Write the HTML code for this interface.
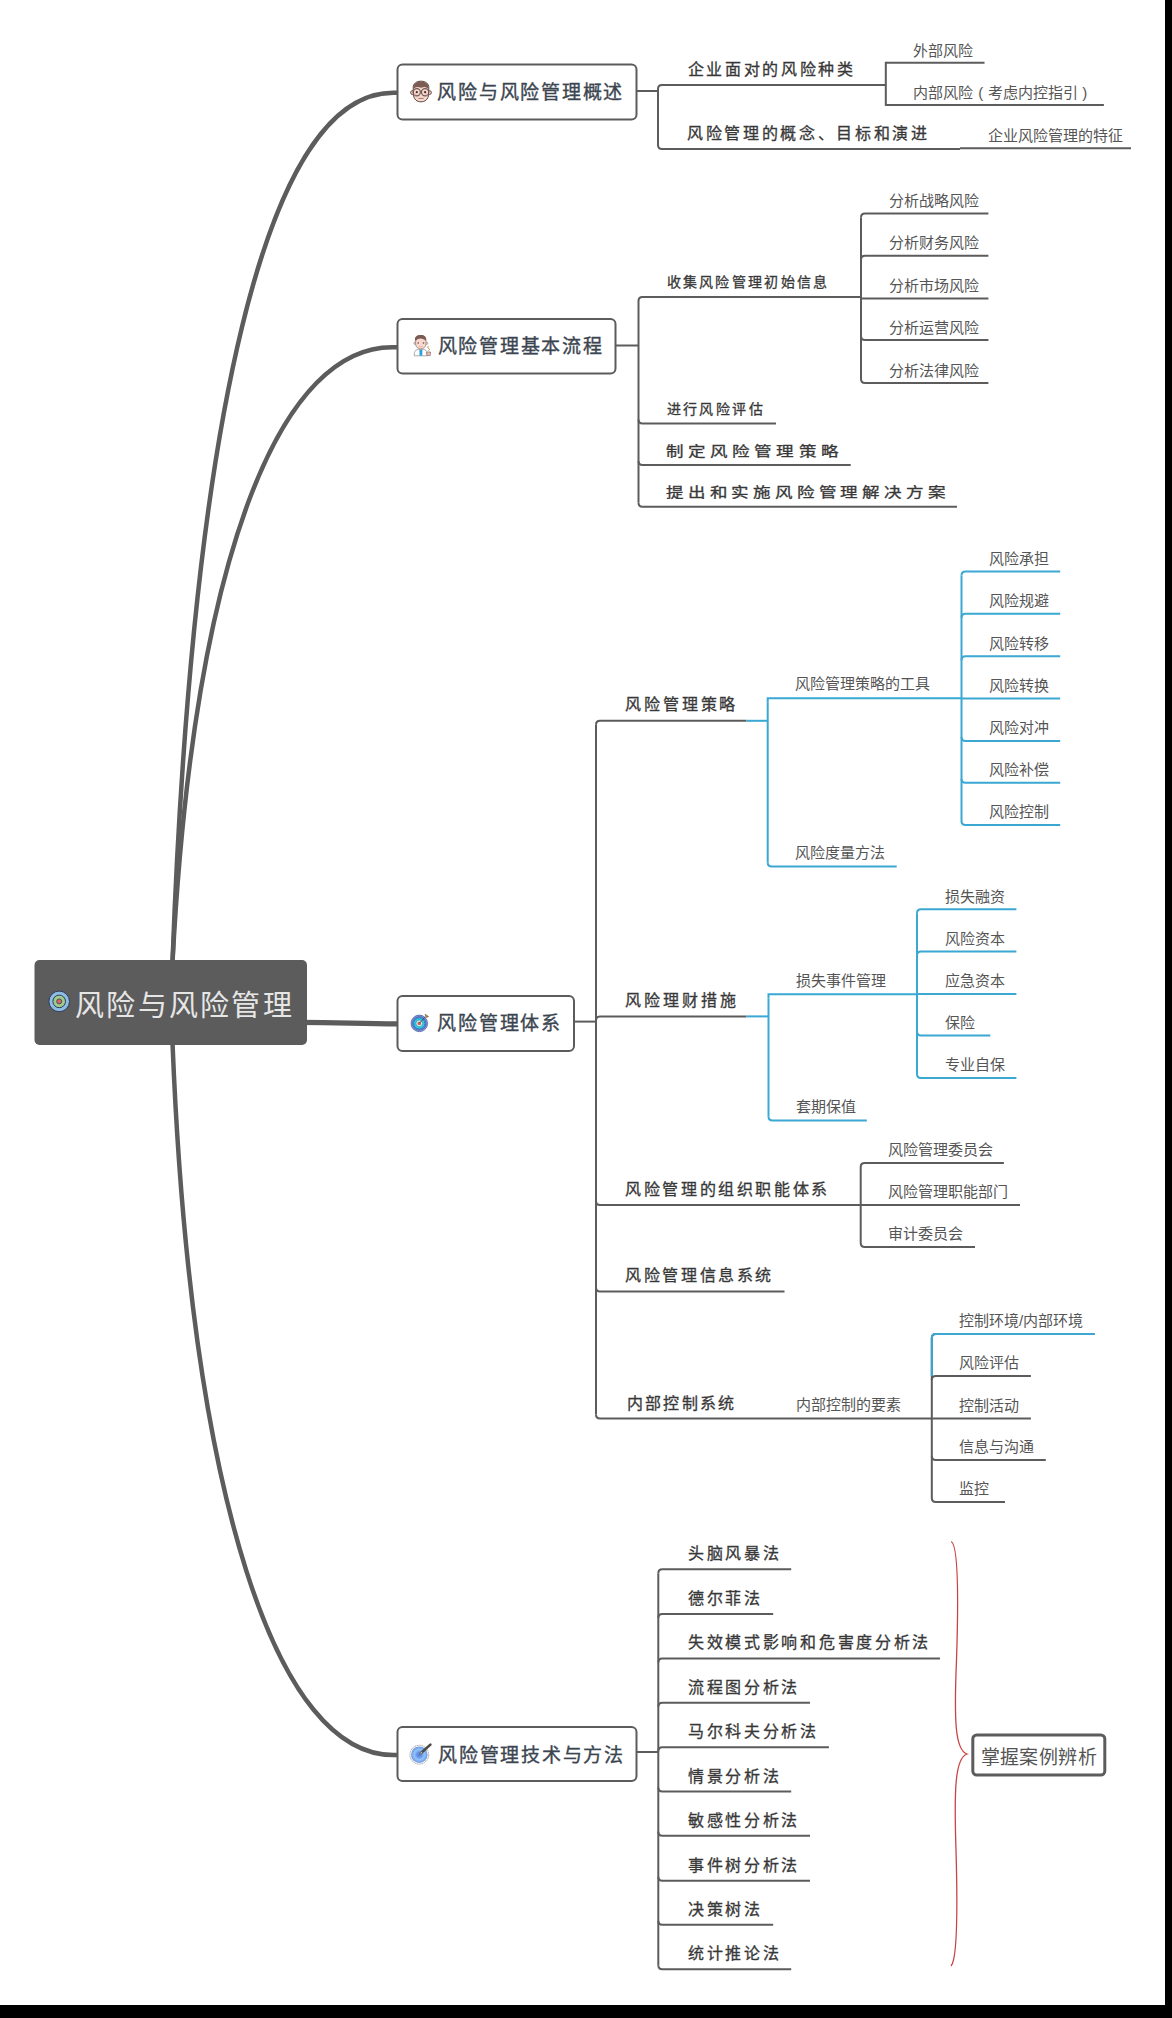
<!DOCTYPE html>
<html lang="zh-CN"><head><meta charset="utf-8"><style>
html,body{margin:0;padding:0;background:#000;}
#pg{position:relative;width:1165px;height:2005px;background:#fff;overflow:hidden;}
svg{position:absolute;left:0;top:0;}
.t{position:absolute;white-space:nowrap;font-family:"Liberation Sans",sans-serif;}
</style></head><body>
<div id="pg">
<svg width="1165" height="2005" viewBox="0 0 1165 2005">
<path d="M172.5 962 C192.2 434.2 263.3 86.1 397 92.8" fill="none" stroke="#5c5c5c" stroke-width="4.5" />
<path d="M172.5 962 C194.5 549.2 282.5 341.2 397 347.3" fill="none" stroke="#5c5c5c" stroke-width="4.5" />
<path d="M172.5 1043 C190.9 1496.6 276.4 1760.3 397 1755" fill="none" stroke="#5c5c5c" stroke-width="4.5" />
<path d="M300 1022.4 C340 1022.4 360 1023.9 397 1023.9" fill="none" stroke="#5c5c5c" stroke-width="5.2" />
<rect x="34.5" y="960" width="272.5" height="85" rx="5" fill="#5c5c5c"/>
<g transform="translate(59.2,1001.4)"><circle r="10.3" fill="#8dbde2" stroke="#2e3b5c" stroke-width="1"/><circle r="6.3" fill="#9ecb8a" stroke="#2e3b5c" stroke-width="1"/><circle r="2.5" fill="#d66a5f" stroke="#2e3b5c" stroke-width="0.8"/></g>
<rect x="397.5" y="64.5" width="239.0" height="55.0" rx="5" fill="#fff" stroke="#5c5c5c" stroke-width="2"/>
<line x1="636.5" y1="91" x2="658" y2="91" stroke="#5c5c5c" stroke-width="2"/>
<path d="M658 89 Q658 85 662 85 L885.8 85" fill="none" stroke="#5c5c5c" stroke-width="2" />
<path d="M658 145 Q658 149 662 149 L960 149" fill="none" stroke="#5c5c5c" stroke-width="2" />
<path d="M658 89 L658 145" fill="none" stroke="#5c5c5c" stroke-width="2" />
<path d="M885.8 61.8 L885.8 105.9" stroke="#5c5c5c" stroke-width="2"/>
<line x1="885.8" y1="62.8" x2="984.5" y2="62.8" stroke="#5c5c5c" stroke-width="2"/>
<line x1="885.8" y1="104.9" x2="1103.9" y2="104.9" stroke="#5c5c5c" stroke-width="2"/>
<line x1="960" y1="148.2" x2="1131" y2="148.2" stroke="#5c5c5c" stroke-width="2"/>
<rect x="397.5" y="319" width="218.0" height="54.5" rx="5" fill="#fff" stroke="#5c5c5c" stroke-width="2"/>
<line x1="615.5" y1="345.5" x2="638.5" y2="345.5" stroke="#5c5c5c" stroke-width="2"/>
<path d="M638.5 301 Q638.5 297 642.5 297 L861 297" fill="none" stroke="#5c5c5c" stroke-width="2" />
<path d="M638.5 419.6 Q638.5 423.6 642.5 423.6 L776 423.6" fill="none" stroke="#5c5c5c" stroke-width="2" />
<path d="M638.5 461 Q638.5 465 642.5 465 L850.7 465" fill="none" stroke="#5c5c5c" stroke-width="2" />
<path d="M638.5 502.7 Q638.5 506.7 642.5 506.7 L957 506.7" fill="none" stroke="#5c5c5c" stroke-width="2" />
<path d="M638.5 301 L638.5 502.7" fill="none" stroke="#5c5c5c" stroke-width="2" />
<path d="M861 217.4 Q861 213.4 865 213.4 L988.4 213.4" fill="none" stroke="#5c5c5c" stroke-width="2" />
<path d="M861 259.8 Q861 255.8 865 255.8 L988.4 255.8" fill="none" stroke="#5c5c5c" stroke-width="2" />
<line x1="861" y1="298.4" x2="988.4" y2="298.4" stroke="#5c5c5c" stroke-width="2"/>
<path d="M861 336 Q861 340 865 340 L988.4 340" fill="none" stroke="#5c5c5c" stroke-width="2" />
<path d="M861 379 Q861 383 865 383 L988.4 383" fill="none" stroke="#5c5c5c" stroke-width="2" />
<path d="M861 217.4 L861 379" fill="none" stroke="#5c5c5c" stroke-width="2" />
<rect x="397.5" y="996" width="176.5" height="55" rx="5" fill="#fff" stroke="#5c5c5c" stroke-width="2"/>
<line x1="574" y1="1021.6" x2="596" y2="1021.6" stroke="#5c5c5c" stroke-width="2"/>
<path d="M596 724.8 Q596 720.8 600 720.8 L746.5 720.8" fill="none" stroke="#5c5c5c" stroke-width="2" />
<path d="M596 1020.4 Q596 1016.4 600 1016.4 L746.5 1016.4" fill="none" stroke="#5c5c5c" stroke-width="2" />
<path d="M596 1201 Q596 1205 600 1205 L860.7 1205" fill="none" stroke="#5c5c5c" stroke-width="2" />
<path d="M596 1287.6 Q596 1291.6 600 1291.6 L784.5 1291.6" fill="none" stroke="#5c5c5c" stroke-width="2" />
<path d="M596 1414.5 Q596 1418.5 600 1418.5 L931.8 1418.5" fill="none" stroke="#5c5c5c" stroke-width="2" />
<path d="M596 724.8 L596 1414.5" fill="none" stroke="#5c5c5c" stroke-width="2" />
<line x1="746.5" y1="720.8" x2="767.7" y2="720.8" stroke="#3aa8d2" stroke-width="2"/>
<line x1="746.5" y1="1016.4" x2="768.5" y2="1016.4" stroke="#3aa8d2" stroke-width="2"/>
<path d="M767.7 702.2 L767.7 697.2 M766.7 698.2 L961.5 698.2" fill="none" stroke="#3aa8d2" stroke-width="2" />
<path d="M767.7 862.5 Q767.7 866.5 771.7 866.5 L896.7 866.5" fill="none" stroke="#3aa8d2" stroke-width="2" />
<path d="M767.7 702.2 L767.7 862.5" fill="none" stroke="#3aa8d2" stroke-width="2" />
<path d="M961.5 575.5 Q961.5 571.5 965.5 571.5 L1060.2 571.5" fill="none" stroke="#3aa8d2" stroke-width="2" />
<path d="M961.5 617.8 Q961.5 613.8 965.5 613.8 L1060.2 613.8" fill="none" stroke="#3aa8d2" stroke-width="2" />
<path d="M961.5 660.3 Q961.5 656.3 965.5 656.3 L1060.2 656.3" fill="none" stroke="#3aa8d2" stroke-width="2" />
<line x1="961.5" y1="698.6" x2="1060.2" y2="698.6" stroke="#3aa8d2" stroke-width="2"/>
<path d="M961.5 736.9 Q961.5 740.9 965.5 740.9 L1060.2 740.9" fill="none" stroke="#3aa8d2" stroke-width="2" />
<path d="M961.5 778.8 Q961.5 782.8 965.5 782.8 L1060.2 782.8" fill="none" stroke="#3aa8d2" stroke-width="2" />
<path d="M961.5 821.1 Q961.5 825.1 965.5 825.1 L1060.2 825.1" fill="none" stroke="#3aa8d2" stroke-width="2" />
<path d="M961.5 575.5 L961.5 821.1" fill="none" stroke="#3aa8d2" stroke-width="2" />
<path d="M768.5 998.3 L768.5 993.3 M767.5 994.3 L917 994.3" fill="none" stroke="#3aa8d2" stroke-width="2" />
<path d="M768.5 1116.6 Q768.5 1120.6 772.5 1120.6 L866.8 1120.6" fill="none" stroke="#3aa8d2" stroke-width="2" />
<path d="M768.5 998.3 L768.5 1116.6" fill="none" stroke="#3aa8d2" stroke-width="2" />
<path d="M917 913.3 Q917 909.3 921 909.3 L1016.4 909.3" fill="none" stroke="#3aa8d2" stroke-width="2" />
<path d="M917 955.4 Q917 951.4 921 951.4 L1016.4 951.4" fill="none" stroke="#3aa8d2" stroke-width="2" />
<line x1="917" y1="993.9" x2="1016.4" y2="993.9" stroke="#3aa8d2" stroke-width="2"/>
<path d="M917 1031.6 Q917 1035.6 921 1035.6 L990.3 1035.6" fill="none" stroke="#3aa8d2" stroke-width="2" />
<path d="M917 1074.1 Q917 1078.1 921 1078.1 L1016.4 1078.1" fill="none" stroke="#3aa8d2" stroke-width="2" />
<path d="M917 913.3 L917 1074.1" fill="none" stroke="#3aa8d2" stroke-width="2" />
<path d="M860.7 1166.9 Q860.7 1162.9 864.7 1162.9 L1003.9 1162.9" fill="none" stroke="#5c5c5c" stroke-width="2" />
<line x1="860.7" y1="1205" x2="1020" y2="1205" stroke="#5c5c5c" stroke-width="2"/>
<path d="M860.7 1243.1 Q860.7 1247.1 864.7 1247.1 L975 1247.1" fill="none" stroke="#5c5c5c" stroke-width="2" />
<path d="M860.7 1166.9 L860.7 1243.1" fill="none" stroke="#5c5c5c" stroke-width="2" />
<path d="M931.8 1337.9 Q931.8 1333.9 935.8 1333.9 L1094.6 1333.9" fill="none" stroke="#5c5c5c" stroke-width="2" />
<path d="M931.8 1380 Q931.8 1376 935.8 1376 L1030.9 1376" fill="none" stroke="#5c5c5c" stroke-width="2" />
<line x1="931.8" y1="1418.5" x2="1030.9" y2="1418.5" stroke="#5c5c5c" stroke-width="2"/>
<path d="M931.8 1456.1 Q931.8 1460.1 935.8 1460.1 L1045.8 1460.1" fill="none" stroke="#5c5c5c" stroke-width="2" />
<path d="M931.8 1498.1 Q931.8 1502.1 935.8 1502.1 L1005 1502.1" fill="none" stroke="#5c5c5c" stroke-width="2" />
<path d="M931.8 1337.9 L931.8 1498.1" fill="none" stroke="#5c5c5c" stroke-width="2" />
<path d="M931.8 1376 L931.8 1337.9 Q931.8 1333.9 935.8 1333.9 L1094.6 1333.9" fill="none" stroke="#3aa8d2" stroke-width="2" />
<rect x="397.5" y="1727" width="239.0" height="54" rx="5" fill="#fff" stroke="#5c5c5c" stroke-width="2"/>
<line x1="636.5" y1="1752" x2="658.3" y2="1752" stroke="#5c5c5c" stroke-width="2"/>
<path d="M658.3 1573.3 Q658.3 1569.3 662.3 1569.3 L791.2 1569.3" fill="none" stroke="#5c5c5c" stroke-width="2" />
<path d="M658.3 1618 Q658.3 1614 662.3 1614 L773.2 1614" fill="none" stroke="#5c5c5c" stroke-width="2" />
<path d="M658.3 1662.4 Q658.3 1658.4 662.3 1658.4 L940 1658.4" fill="none" stroke="#5c5c5c" stroke-width="2" />
<path d="M658.3 1706.8 Q658.3 1702.8 662.3 1702.8 L810 1702.8" fill="none" stroke="#5c5c5c" stroke-width="2" />
<path d="M658.3 1751.2 Q658.3 1747.2 662.3 1747.2 L828.9 1747.2" fill="none" stroke="#5c5c5c" stroke-width="2" />
<path d="M658.3 1787.6 Q658.3 1791.6 662.3 1791.6 L791.2 1791.6" fill="none" stroke="#5c5c5c" stroke-width="2" />
<path d="M658.3 1831.7 Q658.3 1835.7 662.3 1835.7 L810 1835.7" fill="none" stroke="#5c5c5c" stroke-width="2" />
<path d="M658.3 1876.7 Q658.3 1880.7 662.3 1880.7 L810 1880.7" fill="none" stroke="#5c5c5c" stroke-width="2" />
<path d="M658.3 1920.8 Q658.3 1924.8 662.3 1924.8 L773.2 1924.8" fill="none" stroke="#5c5c5c" stroke-width="2" />
<path d="M658.3 1965.2 Q658.3 1969.2 662.3 1969.2 L791.2 1969.2" fill="none" stroke="#5c5c5c" stroke-width="2" />
<path d="M658.3 1573.3 L658.3 1965.2" fill="none" stroke="#5c5c5c" stroke-width="2" />
<path d="M951.2 1541.5 C 958 1545, 958.5 1600, 956.5 1660 C 954 1720, 955 1750, 967 1754 C 955 1758, 954 1790, 956 1850 C 958 1920, 957 1960, 951 1966" fill="none" stroke="#c84444" stroke-width="1.3" />
<rect x="972.8" y="1735" width="132" height="40" rx="4" fill="#fff" stroke="#5c5c5c" stroke-width="3"/>

<g id="face">
<circle cx="412.6" cy="92.6" r="2" fill="#f3c9bd" stroke="#5a4744" stroke-width="0.9"/>
<circle cx="429.4" cy="92.6" r="2" fill="#f3c9bd" stroke="#5a4744" stroke-width="0.9"/>
<path d="M413.2 88 C413 83.5 416.5 81.2 421 81.2 C425.5 81.2 429 83.5 428.8 88 L428.6 94 C428.4 99.5 425 101.8 421 101.8 C417 101.8 413.6 99.5 413.4 94 Z" fill="#f8d6ca" stroke="#5a4744" stroke-width="1"/>
<path d="M413.4 88.8 C413 83.8 416.5 81.4 421 81.4 C425.5 81.4 429 83.8 428.6 88.8 L427 88 C425 86.6 423.5 87 421.2 87.8 C418.5 87 416.5 86.6 414.6 88 Z" fill="#7b5d56"/>
<circle cx="416.8" cy="92.2" r="3.6" fill="none" stroke="#6e5b58" stroke-width="1.2"/>
<circle cx="425.1" cy="92.2" r="3.6" fill="none" stroke="#6e5b58" stroke-width="1.2"/>
<line x1="420.4" y1="92" x2="421.5" y2="92" stroke="#6e5b58" stroke-width="1"/>
<circle cx="416.8" cy="92.2" r="1.1" fill="#3d3333"/>
<circle cx="425.1" cy="92.2" r="1.1" fill="#3d3333"/>
<circle cx="415.2" cy="94.6" r="1" fill="#f4a8a8" opacity="0.8"/>
<circle cx="426.6" cy="94.6" r="1" fill="#f4a8a8" opacity="0.8"/>
<line x1="418.4" y1="98.4" x2="423.6" y2="98.4" stroke="#8a7572" stroke-width="0.9"/>
</g>
<g id="doctor">
<path d="M414.2 355.8 L414.4 352.5 C414.8 350.6 416.5 349.6 418.6 349.4 L423.4 349.4 C425.5 349.6 426.8 350.6 427 352.5 L427 355.8 Z" fill="#fbfbfb" stroke="#9a9a9a" stroke-width="0.8"/>
<path d="M419.4 349.8 L422.4 349.8 L422.2 355.8 L419.6 355.8 Z" fill="#2aa2dc"/>
<circle cx="415.1" cy="343.2" r="1.3" fill="#f3c9bd" stroke="#888" stroke-width="0.5"/>
<circle cx="426.6" cy="343.2" r="1.3" fill="#f3c9bd" stroke="#888" stroke-width="0.5"/>
<path d="M415.6 339 C415.6 336.5 417.8 335.5 420.8 335.5 C424 335.5 426 336.8 426 339.5 L426 344 C426 347 423.6 348.9 420.8 348.9 C418 348.9 415.6 347 415.6 344 Z" fill="#fad7cc" stroke="#7a6a66" stroke-width="0.6"/>
<path d="M415 340.5 C414.6 336.2 417.5 335 420.8 335 C424.3 335 426.4 336.5 426 340.6 L425.3 340.6 C424.5 339.6 422.8 338.6 420.5 338.6 C418.4 338.6 417 339.5 416.2 340.6 Z" fill="#7a5b54"/>
<circle cx="418.2" cy="343" r="0.8" fill="#5b4a48"/>
<circle cx="423.5" cy="343" r="0.8" fill="#5b4a48"/>
<path d="M418.8 346.6 Q420.8 347.6 422.8 346.6" fill="none" stroke="#c9a39a" stroke-width="0.6"/>
<path d="M428.6 346.2 C427.3 346.6 427.4 348 428.6 348.4 C429.8 348.8 429.9 350.2 428.4 350.5" fill="none" stroke="#a99650" stroke-width="1"/>
<path d="M426.6 352 L430.6 352 L430.2 355.6 L427 355.6 Z" fill="#f1bdb2" stroke="#6d5d5a" stroke-width="0.6"/>
</g>
<g id="target">
<circle cx="419.3" cy="1023.4" r="8.3" fill="#7b99f2" stroke="#4d5f9a" stroke-width="0.7"/>
<circle cx="419.3" cy="1023.4" r="6.7" fill="none" stroke="#3b4a7a" stroke-width="0.6"/>
<circle cx="419.3" cy="1023.4" r="5.6" fill="#1fd0f2" stroke="#2b5a7a" stroke-width="0.6"/>
<circle cx="419.3" cy="1023.4" r="3.4" fill="#b9ecea" stroke="#3a6a7a" stroke-width="0.5"/>
<circle cx="419.3" cy="1023.4" r="1.7" fill="#d9534f"/>
<line x1="419.6" y1="1023" x2="425.6" y2="1016.6" stroke="#333" stroke-width="0.8"/>
<path d="M425 1014.2 L428.6 1016.6 L426.4 1017.6 Z" fill="#a8864e" stroke="#7a5f30" stroke-width="0.6"/>
</g>
<g id="pen">
<defs><radialGradient id="rg" cx="0.5" cy="0.5" r="0.5"><stop offset="0" stop-color="#4f7fe0"/><stop offset="0.35" stop-color="#6f9ae8"/><stop offset="0.6" stop-color="#92c4fb"/><stop offset="1" stop-color="#6d97e0"/></radialGradient></defs>
<circle cx="419.3" cy="1754.7" r="9.4" fill="#fff" stroke="#9a9090" stroke-width="0.9" stroke-dasharray="1.2 0.6"/>
<circle cx="419.3" cy="1754.7" r="8.3" fill="url(#rg)"/>
<line x1="421" y1="1753" x2="430.4" y2="1744.6" stroke="#4a4a4a" stroke-width="2.6" stroke-linecap="round"/>
<path d="M419.6 1754.4 L421.2 1751.6 L422.6 1753 Z" fill="#f4f4f4" stroke="#444" stroke-width="0.5"/>
</g>

</svg>
<div class="t" style="left:75px;top:991.5px;font-size:29px;line-height:29px;letter-spacing:2.3px;color:#e6e6e6">风险与风险管理</div>
<div class="t" style="left:437.3px;top:82.5px;font-size:19px;line-height:19px;letter-spacing:1.75px;color:#3b4550;-webkit-text-stroke:0.35px #3b4550;">风险与风险管理概述</div>
<div class="t" style="left:687.8px;top:61.5px;font-size:16px;line-height:16px;letter-spacing:2.65px;color:#383838;-webkit-text-stroke:0.3px #383838;">企业面对的风险种类</div>
<div class="t" style="left:687.2px;top:125.9px;font-size:16px;line-height:16px;letter-spacing:2.65px;color:#383838;-webkit-text-stroke:0.3px #383838;">风险管理的概念、目标和演进</div>
<div class="t" style="left:913.2px;top:42.6px;font-size:15px;line-height:15px;letter-spacing:0px;color:#555;">外部风险</div>
<div class="t" style="left:913.2px;top:84.7px;font-size:15px;line-height:15px;letter-spacing:0px;color:#555;">内部风险</div>
<div class="t" style="left:978.3px;top:84.7px;font-size:15px;line-height:15px;letter-spacing:0px;color:#555;">(</div>
<div class="t" style="left:988.0px;top:84.7px;font-size:15px;line-height:15px;letter-spacing:0px;color:#555;">考虑内控指引</div>
<div class="t" style="left:1082.2px;top:84.7px;font-size:15px;line-height:15px;letter-spacing:0px;color:#555;">)</div>
<div class="t" style="left:987.7px;top:128.2px;font-size:15px;line-height:15px;letter-spacing:0px;color:#555;">企业风险管理的特征</div>
<div class="t" style="left:437.6px;top:336.7px;font-size:19px;line-height:19px;letter-spacing:1.75px;color:#3b4550;-webkit-text-stroke:0.35px #3b4550;">风险管理基本流程</div>
<div class="t" style="left:666.5px;top:275.4px;font-size:14px;line-height:14px;letter-spacing:2.3px;color:#383838;-webkit-text-stroke:0.3px #383838;">收集风险管理初始信息</div>
<div class="t" style="left:666.6px;top:402.3px;font-size:14px;line-height:14px;letter-spacing:2.4px;color:#383838;-webkit-text-stroke:0.3px #383838;">进行风险评估</div>
<div class="t" style="left:666.2px;top:443.9px;font-size:14px;line-height:14px;letter-spacing:3.68px;color:#383838;-webkit-text-stroke:0.3px #383838;transform:scaleX(1.25);transform-origin:0 0;">制定风险管理策略</div>
<div class="t" style="left:666.2px;top:485.1px;font-size:14px;line-height:14px;letter-spacing:3.45px;color:#383838;-webkit-text-stroke:0.3px #383838;transform:scaleX(1.25);transform-origin:0 0;">提出和实施风险管理解决方案</div>
<div class="t" style="left:889.0px;top:192.9px;font-size:15px;line-height:15px;letter-spacing:0px;color:#555;">分析战略风险</div>
<div class="t" style="left:889.0px;top:235.3px;font-size:15px;line-height:15px;letter-spacing:0px;color:#555;">分析财务风险</div>
<div class="t" style="left:889.0px;top:277.9px;font-size:15px;line-height:15px;letter-spacing:0px;color:#555;">分析市场风险</div>
<div class="t" style="left:889.0px;top:319.5px;font-size:15px;line-height:15px;letter-spacing:0px;color:#555;">分析运营风险</div>
<div class="t" style="left:889.0px;top:362.5px;font-size:15px;line-height:15px;letter-spacing:0px;color:#555;">分析法律风险</div>
<div class="t" style="left:437.4px;top:1013.5px;font-size:19px;line-height:19px;letter-spacing:1.75px;color:#3b4550;-webkit-text-stroke:0.35px #3b4550;">风险管理体系</div>
<div class="t" style="left:625.0px;top:697.4px;font-size:16px;line-height:16px;letter-spacing:2.9px;color:#383838;-webkit-text-stroke:0.3px #383838;">风险管理策略</div>
<div class="t" style="left:625.2px;top:993.0px;font-size:16px;line-height:16px;letter-spacing:2.9px;color:#383838;-webkit-text-stroke:0.3px #383838;">风险理财措施</div>
<div class="t" style="left:625.3px;top:1181.5px;font-size:16px;line-height:16px;letter-spacing:2.6px;color:#383838;-webkit-text-stroke:0.3px #383838;">风险管理的组织职能体系</div>
<div class="t" style="left:625.3px;top:1268.0px;font-size:16px;line-height:16px;letter-spacing:2.6px;color:#383838;-webkit-text-stroke:0.3px #383838;">风险管理信息系统</div>
<div class="t" style="left:626.5px;top:1395.5px;font-size:16px;line-height:16px;letter-spacing:2.4px;color:#383838;-webkit-text-stroke:0.3px #383838;">内部控制系统</div>
<div class="t" style="left:795.0px;top:676.2px;font-size:15px;line-height:15px;letter-spacing:0px;color:#555;">风险管理策略的工具</div>
<div class="t" style="left:795.0px;top:845.2px;font-size:15px;line-height:15px;letter-spacing:0px;color:#555;">风险度量方法</div>
<div class="t" style="left:989.0px;top:550.7px;font-size:15px;line-height:15px;letter-spacing:0px;color:#555;">风险承担</div>
<div class="t" style="left:989.0px;top:593.0px;font-size:15px;line-height:15px;letter-spacing:0px;color:#555;">风险规避</div>
<div class="t" style="left:989.0px;top:635.5px;font-size:15px;line-height:15px;letter-spacing:0px;color:#555;">风险转移</div>
<div class="t" style="left:989.0px;top:677.8px;font-size:15px;line-height:15px;letter-spacing:0px;color:#555;">风险转换</div>
<div class="t" style="left:989.0px;top:720.1px;font-size:15px;line-height:15px;letter-spacing:0px;color:#555;">风险对冲</div>
<div class="t" style="left:989.0px;top:762.0px;font-size:15px;line-height:15px;letter-spacing:0px;color:#555;">风险补偿</div>
<div class="t" style="left:989.0px;top:804.3px;font-size:15px;line-height:15px;letter-spacing:0px;color:#555;">风险控制</div>
<div class="t" style="left:795.6px;top:972.7px;font-size:15px;line-height:15px;letter-spacing:0px;color:#555;">损失事件管理</div>
<div class="t" style="left:795.6px;top:1099.2px;font-size:15px;line-height:15px;letter-spacing:0px;color:#555;">套期保值</div>
<div class="t" style="left:944.8px;top:888.5px;font-size:15px;line-height:15px;letter-spacing:0px;color:#555;">损失融资</div>
<div class="t" style="left:944.8px;top:930.6px;font-size:15px;line-height:15px;letter-spacing:0px;color:#555;">风险资本</div>
<div class="t" style="left:944.8px;top:973.1px;font-size:15px;line-height:15px;letter-spacing:0px;color:#555;">应急资本</div>
<div class="t" style="left:944.8px;top:1014.8px;font-size:15px;line-height:15px;letter-spacing:0px;color:#555;">保险</div>
<div class="t" style="left:944.8px;top:1057.3px;font-size:15px;line-height:15px;letter-spacing:0px;color:#555;">专业自保</div>
<div class="t" style="left:887.8px;top:1142.1px;font-size:15px;line-height:15px;letter-spacing:0px;color:#555;">风险管理委员会</div>
<div class="t" style="left:887.8px;top:1184.2px;font-size:15px;line-height:15px;letter-spacing:0px;color:#555;">风险管理职能部门</div>
<div class="t" style="left:887.8px;top:1226.3px;font-size:15px;line-height:15px;letter-spacing:0px;color:#555;">审计委员会</div>
<div class="t" style="left:796.0px;top:1397.2px;font-size:15px;line-height:15px;letter-spacing:0px;color:#555;">内部控制的要素</div>
<div class="t" style="left:958.9px;top:1313.1px;font-size:15px;line-height:15px;letter-spacing:0px;color:#555;">控制环境/内部环境</div>
<div class="t" style="left:958.9px;top:1355.2px;font-size:15px;line-height:15px;letter-spacing:0px;color:#555;">风险评估</div>
<div class="t" style="left:958.9px;top:1397.7px;font-size:15px;line-height:15px;letter-spacing:0px;color:#555;">控制活动</div>
<div class="t" style="left:958.9px;top:1439.3px;font-size:15px;line-height:15px;letter-spacing:0px;color:#555;">信息与沟通</div>
<div class="t" style="left:958.9px;top:1481.3px;font-size:15px;line-height:15px;letter-spacing:0px;color:#555;">监控</div>
<div class="t" style="left:438.0px;top:1745.5px;font-size:19px;line-height:19px;letter-spacing:1.75px;color:#3b4550;-webkit-text-stroke:0.35px #3b4550;">风险管理技术与方法</div>
<div class="t" style="left:688.0px;top:1546.2px;font-size:16px;line-height:16px;letter-spacing:2.7px;color:#383838;-webkit-text-stroke:0.3px #383838;">头脑风暴法</div>
<div class="t" style="left:688.0px;top:1590.9px;font-size:16px;line-height:16px;letter-spacing:2.7px;color:#383838;-webkit-text-stroke:0.3px #383838;">德尔菲法</div>
<div class="t" style="left:688.0px;top:1635.3px;font-size:16px;line-height:16px;letter-spacing:2.7px;color:#383838;-webkit-text-stroke:0.3px #383838;">失效模式影响和危害度分析法</div>
<div class="t" style="left:688.0px;top:1679.7px;font-size:16px;line-height:16px;letter-spacing:2.7px;color:#383838;-webkit-text-stroke:0.3px #383838;">流程图分析法</div>
<div class="t" style="left:688.0px;top:1724.1px;font-size:16px;line-height:16px;letter-spacing:2.7px;color:#383838;-webkit-text-stroke:0.3px #383838;">马尔科夫分析法</div>
<div class="t" style="left:688.0px;top:1768.5px;font-size:16px;line-height:16px;letter-spacing:2.7px;color:#383838;-webkit-text-stroke:0.3px #383838;">情景分析法</div>
<div class="t" style="left:688.0px;top:1812.6px;font-size:16px;line-height:16px;letter-spacing:2.7px;color:#383838;-webkit-text-stroke:0.3px #383838;">敏感性分析法</div>
<div class="t" style="left:688.0px;top:1857.6px;font-size:16px;line-height:16px;letter-spacing:2.7px;color:#383838;-webkit-text-stroke:0.3px #383838;">事件树分析法</div>
<div class="t" style="left:688.0px;top:1901.7px;font-size:16px;line-height:16px;letter-spacing:2.7px;color:#383838;-webkit-text-stroke:0.3px #383838;">决策树法</div>
<div class="t" style="left:688.0px;top:1946.1px;font-size:16px;line-height:16px;letter-spacing:2.7px;color:#383838;-webkit-text-stroke:0.3px #383838;">统计推论法</div>
<div class="t" style="left:980.6px;top:1747.5px;font-size:19px;line-height:19px;letter-spacing:0.4px;color:#555;">掌握案例辨析</div>
</div>
</body></html>
